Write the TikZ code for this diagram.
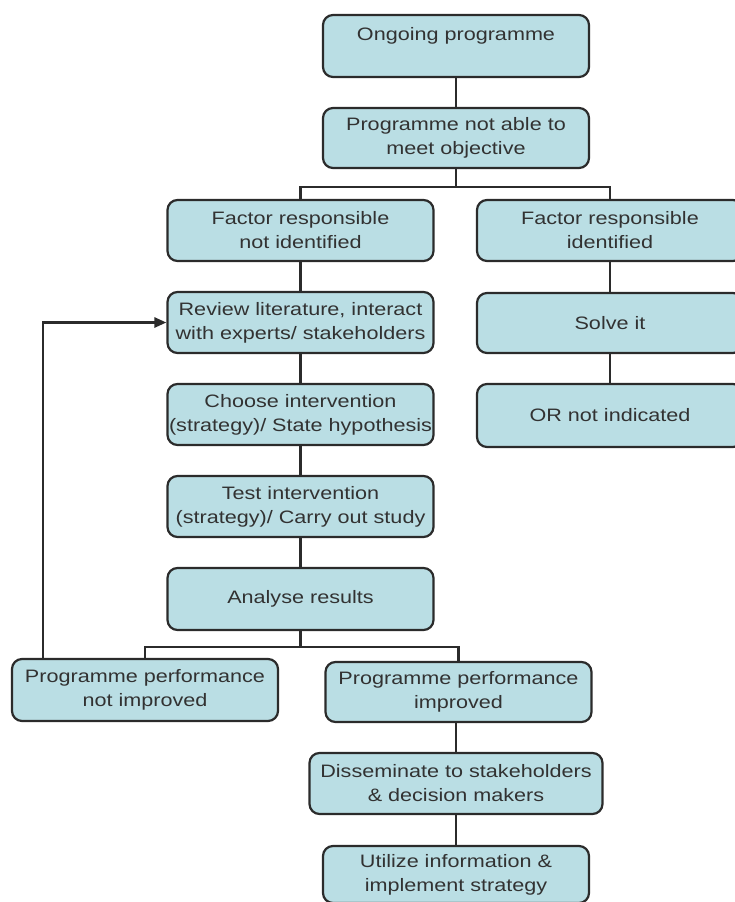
\documentclass[tikz,border=0pt]{standalone}
\usepackage{fontspec}
\setmainfont{Liberation Sans}[FakeStretch=1.2]
\usetikzlibrary{arrows.meta}
\definecolor{boxfill}{RGB}{186,222,228}
\definecolor{boxline}{RGB}{43,43,43}
\definecolor{txt}{RGB}{50,50,50}
\tikzset{
  fbox/.style={draw=boxline, fill=boxfill, rounded corners=10pt, line width=2.2pt,
    minimum width=266pt, minimum height=61pt, align=center, inner sep=0pt,
    text=txt, font=\fontsize{18}{24}\selectfont},
  conn/.style={draw=boxline, line width=2.6pt},
}
\begin{document}
\begin{tikzpicture}[x=1pt,y=-1pt]
\useasboundingbox (0,0) rectangle (735,902);
\node[fbox, minimum height=62pt] (b1) at (456,46) {Ongoing programme\\\mbox{}};
\node[fbox, minimum height=60pt] (b2) at (456,138) {Programme not able to\\meet objective};
\node[fbox] (b3) at (300.5,230.5) {Factor responsible\\not identified};
\node[fbox] (b4) at (610,230.5) {Factor responsible\\identified};
\node[fbox] (b5) at (300.5,322.5) {Review literature, interact\\with experts/ stakeholders};
\node[fbox, minimum height=60pt] (b6) at (610,323) {Solve it};
\node[fbox] (b7) at (300.5,414.5) {Choose intervention\\(strategy)/ State hypothesis};
\node[fbox, minimum height=63pt] (b8) at (610,415.5) {OR not indicated};
\node[fbox] (b9) at (300.5,506.5) {Test intervention\\(strategy)/ Carry out study};
\node[fbox, minimum height=62pt] (b10) at (300.5,599) {Analyse results};
\node[fbox, minimum height=62pt] (b11) at (145,690) {Programme performance\\not improved};
\node[fbox, minimum height=60pt] (b12) at (458.5,692) {Programme performance\\improved};
\node[fbox, minimum width=293pt] (b13) at (456,783.5) {Disseminate to stakeholders\\\& decision makers};
\node[fbox, minimum height=57pt] (b14) at (456,874.5) {Utilize information \&\\implement strategy};

\coordinate (j1) at (456,187);
\coordinate (j2) at (300.5,647);
\coordinate (fb) at (43,659);

\draw[conn] (b1) -- (b2);
\draw[conn] (b2.south) -- (j1);
\draw[conn] (b3.north) |- (j1) -| (b4.north);
\draw[conn] (b3) -- (b5);
\draw[conn] (b5) -- (b7);
\draw[conn] (b7) -- (b9);
\draw[conn] (b9) -- (b10);
\draw[conn] (b4) -- (b6);
\draw[conn] (b6) -- (b8);
\draw[conn] (b10.south) -- (j2);
\draw[conn] (b11.north) |- (j2) -| (b12.north);
\draw[conn] (b13.north |- b12.south) -- (b13.north);
\draw[conn] (b13) -- (b14);
\draw[conn, -{Triangle[length=12pt,width=10pt]}] (fb) |- (b5.west);
\end{tikzpicture}
\end{document}
